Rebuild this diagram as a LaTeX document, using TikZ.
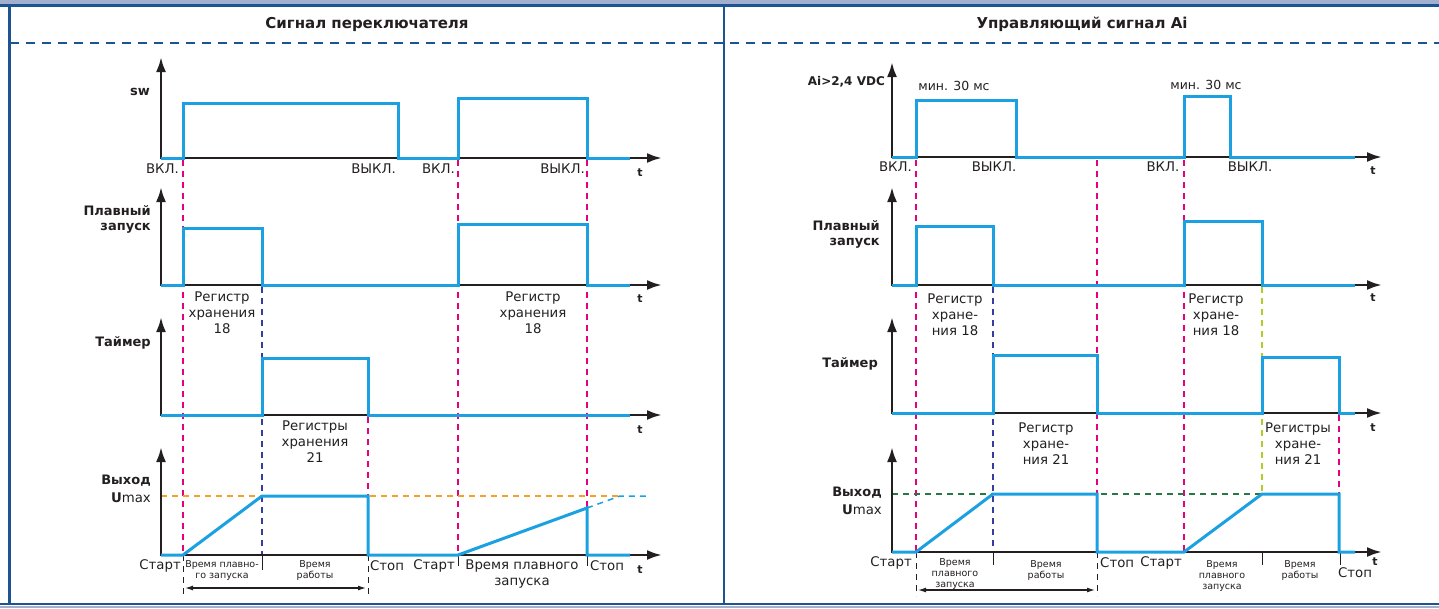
\documentclass[tikz,border=0pt]{standalone}
\usepackage{fontspec}
\setmainfont{DejaVu Sans}
\usetikzlibrary{arrows.meta}

\definecolor{sigblue}{RGB}{27,161,226}
\definecolor{markpink}{RGB}{228,0,126}
\definecolor{markblue}{RGB}{55,60,160}
\definecolor{markolive}{RGB}{175,205,40}
\definecolor{levelorange}{RGB}{245,160,40}
\definecolor{levelgreen}{RGB}{40,120,70}
\definecolor{frameblue}{RGB}{28,84,146}
\definecolor{bandblue}{RGB}{163,175,207}
\definecolor{axisblack}{RGB}{35,31,32}

\tikzset{
  axis/.style={line width=2.6pt, color=axisblack,
    {Latex[length=15pt,width=10pt]}-{Latex[length=15pt,width=10pt]}},
  sig/.style={line width=3pt, color=sigblue},
  markline/.style={line width=1.2pt, dash pattern=on 6pt off 5pt},
  tick/.style={line width=1pt, color=axisblack},
  frameline/.style={line width=2.4pt, color=frameblue},
  titledash/.style={line width=2pt, color=frameblue, dash pattern=on 9pt off 7pt},
  ttl/.style={font=\bfseries\fontsize{15}{18}\selectfont, text=axisblack},
  ylbl/.style={font=\bfseries\fontsize{13}{15}\selectfont, text=axisblack, align=right, inner sep=0pt},
  lbl/.style={font=\fontsize{13.3}{16}\selectfont, text=axisblack, align=center, inner sep=0pt},
  note/.style={font=\fontsize{9.5}{11}\selectfont, text=axisblack, align=center, inner sep=0pt},
  tlbl/.style={font=\bfseries\fontsize{11}{13}\selectfont, text=axisblack, inner sep=0pt}
}

\begin{document}
\begin{tikzpicture}[x=1pt, y=-1pt]
\useasboundingbox (0,0) rectangle (1439,608);

% frame
\fill[bandblue] (0,0) rectangle (1439,5);
\draw[frameline] (0,5.5) -- (1439,5.5);
\draw[frameline] (9.5,5) -- (9.5,604);
\draw[frameline] (724,5) -- (724,604);
\draw[frameline] (0,604) -- (1439,604);
\draw[bandblue, line width=2pt] (0,607) -- (1439,607);
\draw[titledash] (10,43) -- (1439,43);

\node[ttl] (ttlsw) at (367,24) {Сигнал переключателя};
\node[ttl] (ttlai) at (1082,24) {Управляющий сигнал Ai};

% left: markers
\draw[markline, markpink] (183,160) -- (183,555);
\draw[markline, markpink] (458,160) -- (458,555);
\draw[markline, markpink] (587,160) -- (587,555);
\draw[markline, markblue] (262,287) -- (262,555);
\draw[markline, markpink] (368,417) -- (368,555);
\draw[markline, levelorange] (161,496) -- (620,496);
\draw[markline, sigblue, line width=1.5pt] (587,508) -- (620,496) -- (648,496);
\draw[markline, axisblack, line width=1pt] (183,555) -- (183,594);
\draw[markline, axisblack, line width=1pt] (368,555) -- (368,594);
\draw[tick] (262,555) -- (262,570);
\draw[tick] (458,555) -- (458,566);
\draw[tick] (587,555) -- (587,566);
\draw[line width=1.2pt, axisblack, {Latex[length=8pt,width=5pt]}-{Latex[length=8pt,width=5pt]}] (185,588) -- (366,588);

% left: axes
\draw[axis] (161,57) -- (161,158) -- (662,158);
\draw[axis] (161,187) -- (161,285) -- (662,285);
\draw[axis] (161,317) -- (161,415) -- (662,415);
\draw[axis] (161,447) -- (161,555) -- (662,555);

% left: signals
\draw[sig] (161,158) -- (183,158) -- (183,103) -- (398,103) -- (398,158) -- (458,158)
  -- (458,98) -- (587,98) -- (587,158) -- (630,158);
\draw[sig] (161,285) -- (183,285) -- (183,228) -- (262,228) -- (262,285) -- (458,285)
  -- (458,224) -- (587,224) -- (587,285) -- (630,285);
\draw[sig] (161,415) -- (262,415) -- (262,358) -- (368,358) -- (368,415) -- (630,415);
\draw[sig] (161,555) -- (183,555) -- (262,496) -- (368,496) -- (368,555) -- (458,555)
  -- (587,508) -- (587,555) -- (630,555);

% left: texts
\node[ylbl, anchor=east] (swname) at (150,92) {sw};
\node[lbl, anchor=east] (on1) at (179,169) {ВКЛ.};
\node[lbl, anchor=east] (off1) at (396,169) {ВЫКЛ.};
\node[lbl, anchor=east] (on2) at (455,169) {ВКЛ.};
\node[lbl, anchor=east] (off2) at (585,169) {ВЫКЛ.};
\node[tlbl] (t1) at (640,173) {t};

\node[ylbl, anchor=east] (softname) at (151,219) {Плавный\\запуск};
\node[lbl] (reg18a) at (222,313) {Регистр\\хранения\\18};
\node[lbl] (reg18b) at (533,313) {Регистр\\хранения\\18};
\node[tlbl] (t2) at (640,299) {t};

\node[ylbl, anchor=east] (timername) at (151,343) {Таймер};
\node[lbl] (reg21) at (315,442) {Регистры\\хранения\\21};
\node[tlbl] (t3) at (640,430) {t};

\node[ylbl, anchor=east] (outname) at (151,481) {Выход};
\node[lbl, anchor=east] (umax1) at (151,498) {\textbf{U}max};
\node[lbl, anchor=east] (start1) at (181,566) {Старт};
\node[note] (ramp1) at (222,571) {Время плавно-\\го запуска};
\node[note] (run1) at (315,571) {Время\\работы};
\node[lbl, anchor=west] (stop1) at (370,566) {Стоп};
\node[lbl, anchor=east] (start2) at (455,566) {Старт};
\node[lbl] (ramp2) at (522,574) {Время плавного\\запуска};
\node[lbl, anchor=west] (stop2) at (590,566) {Стоп};
\node[tlbl] (t4) at (640,570) {t};

% right: markers
\draw[markline, markpink] (916,160) -- (916,552);
\draw[markline, markpink] (1097,160) -- (1097,552);
\draw[markline, markpink] (1184,160) -- (1184,552);
\draw[markline, markblue] (993,287) -- (993,552);
\draw[markline, markolive] (1262,287) -- (1262,494);
\draw[markline, markpink] (1339,415) -- (1339,552);
\draw[markline, levelgreen] (892,494) -- (1262,494);
\draw[markline, axisblack, line width=1pt] (916,552) -- (916,596);
\draw[markline, axisblack, line width=1pt] (1097,552) -- (1097,596);
\draw[tick] (993,552) -- (993,565);
\draw[tick] (1262,552) -- (1262,565);
\draw[tick] (1340,552) -- (1340,565);
\draw[line width=1.2pt, axisblack, {Latex[length=8pt,width=5pt]}-{Latex[length=8pt,width=5pt]}] (918,590) -- (1095,590);

% right: axes
\draw[axis] (892,62) -- (892,157) -- (1382,157);
\draw[axis] (892,187) -- (892,285) -- (1382,285);
\draw[axis] (892,317) -- (892,413) -- (1382,413);
\draw[axis] (892,447) -- (892,552) -- (1382,552);

% right: signals
\draw[sig] (892,157) -- (916,157) -- (916,100) -- (1016,100) -- (1016,157) -- (1184,157)
  -- (1184,96) -- (1230,96) -- (1230,157) -- (1355,157);
\draw[sig] (892,285) -- (916,285) -- (916,226) -- (993,226) -- (993,285) -- (1184,285)
  -- (1184,221) -- (1262,221) -- (1262,285) -- (1355,285);
\draw[sig] (892,413) -- (993,413) -- (993,355) -- (1097,355) -- (1097,413) -- (1262,413)
  -- (1262,357) -- (1339,357) -- (1339,413) -- (1355,413);
\draw[sig] (892,552) -- (916,552) -- (993,494) -- (1097,494) -- (1097,552) -- (1184,552)
  -- (1262,494) -- (1339,494) -- (1339,552) -- (1355,552);

% right: texts
\node[ylbl, anchor=east, font=\bfseries\fontsize{12}{14}\selectfont] (ainame) at (885,82) {Ai>2,4 VDC};
\node[lbl, font=\fontsize{12.5}{15}\selectfont] (min1) at (954,86) {мин. 30 мс};
\node[lbl, font=\fontsize{12.5}{15}\selectfont] (min2) at (1206,85) {мин. 30 мс};
\node[lbl, anchor=east] (on3) at (912,167) {ВКЛ.};
\node[lbl] (off3) at (994,167) {ВЫКЛ.};
\node[lbl] (on4) at (1163,167) {ВКЛ.};
\node[lbl] (off4) at (1250,167) {ВЫКЛ.};
\node[tlbl] (t5) at (1373,171) {t};

\node[ylbl, anchor=east] (softname2) at (880,234) {Плавный\\запуск};
\node[lbl] (reg18c) at (955,315) {Регистр\\хране-\\ния 18};
\node[lbl] (reg18d) at (1216,315) {Регистр\\хране-\\ния 18};
\node[tlbl] (t6) at (1373,298) {t};

\node[ylbl, anchor=east] (timername2) at (878,364) {Таймер};
\node[lbl] (reg21b) at (1046,444) {Регистр\\хране-\\ния 21};
\node[lbl] (reg21c) at (1298,444) {Регистры\\хране-\\ния 21};
\node[tlbl] (t7) at (1373,428) {t};

\node[ylbl, anchor=east] (outname2) at (882,493) {Выход};
\node[lbl, anchor=east] (umax2) at (882,510) {\textbf{U}max};
\node[lbl, anchor=east] (start3) at (912,563) {Старт};
\node[note] (ramp3) at (955,574) {Время\\плавного\\запуска};
\node[note] (run3) at (1046,571) {Время\\работы};
\node[lbl, anchor=west] (stop3) at (1100,563) {Стоп};
\node[lbl, anchor=east] (start4) at (1182,563) {Старт};
\node[note] (ramp4) at (1222,576) {Время\\плавного\\запуска};
\node[note] (run4) at (1300,571) {Время\\работы};
\node[lbl] (stop4) at (1355,573) {Стоп};
\node[tlbl] (t8) at (1375,562) {t};
\end{tikzpicture}
\end{document}
